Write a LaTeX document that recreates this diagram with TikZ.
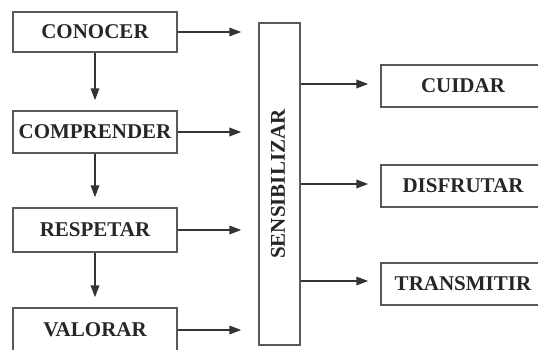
\documentclass[tikz,border=0pt]{standalone}
\usepackage{fontspec}
\setmainfont{Liberation Serif}
\usetikzlibrary{arrows.meta}
\begin{document}
\begin{tikzpicture}[x=1pt,y=-1pt,
  lbl/.style={font=\fontsize{21}{21}\selectfont\bfseries,text=black!85},
  box/.style={draw=black!65,line width=1.4pt,minimum width=164pt,inner sep=0pt,lbl},
  arr/.style={draw=black!80,line width=1.8pt,-{Triangle[length=12pt,width=8.5pt]}}]
\useasboundingbox (0,0) rectangle (538,350);
\node[box,minimum height=40pt] (conocer) at (95,32) {CONOCER};
\node[box,minimum height=42pt] (comprender) at (95,132) {COMPRENDER};
\node[box,minimum height=44pt] (respetar) at (95,230) {RESPETAR};
\node[box,minimum height=44pt] (valorar) at (95,330) {VALORAR};
\node[box,minimum width=41pt,minimum height=322pt] (sens) at (279.5,184) {};
\node[lbl,rotate=90] (senstext) at (278,184) {SENSIBILIZAR};
\node[box,minimum height=42pt] (cuidar) at (463,86) {CUIDAR};
\node[box,minimum height=42pt] (disfrutar) at (463,186) {DISFRUTAR};
\node[box,minimum height=42pt] (transmitir) at (463,284) {TRANSMITIR};
\draw[arr,shorten >=10pt] (conocer) -- (comprender);
\draw[arr,shorten >=10pt] (comprender) -- (respetar);
\draw[arr,shorten >=10pt] (respetar) -- (valorar);
\foreach \n in {conocer,comprender,respetar,valorar}
  \draw[arr,shorten >=17pt] (\n.east) -- (\n.east -| sens.west);
\draw[arr,shorten >=12pt] ([yshift=2pt]sens.east |- cuidar) -- ([yshift=2pt]cuidar.west);
\draw[arr,shorten >=12pt] ([yshift=2pt]sens.east |- disfrutar) -- ([yshift=2pt]disfrutar.west);
\draw[arr,shorten >=12pt] ([yshift=3pt]sens.east |- transmitir) -- ([yshift=3pt]transmitir.west);
\end{tikzpicture}
\end{document}
